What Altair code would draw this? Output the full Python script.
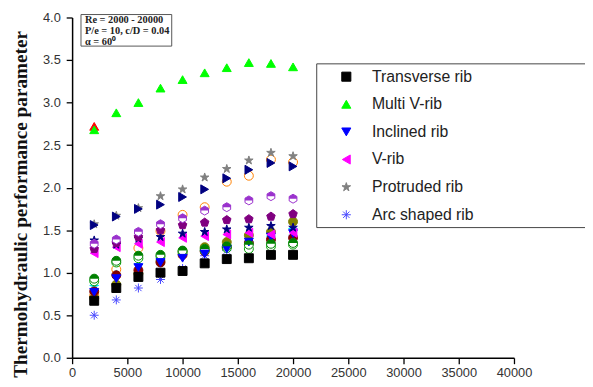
import altair as alt
import pandas as pd

# ---------------- data ----------------
re_values = [2000, 4000, 6000, 8000, 10000, 12000, 14000, 16000, 18000, 20000]

transverse_rib = [0.67, 0.82, 0.95, 1.00, 1.02, 1.11, 1.16, 1.17, 1.21, 1.21]
multi_v_rib = [2.68, 2.88, 3.00, 3.17, 3.27, 3.35, 3.41, 3.47, 3.46, 3.42]
inclined_rib = [0.77, 0.93, 1.06, 1.12, 1.17, 1.22, 1.28, 1.36, 1.42, 1.46]
v_rib = [1.23, 1.30, 1.34, 1.36, 1.41, 1.43, 1.45, 1.47, 1.45, 1.47]
protruded_rib = [1.57, 1.67, 1.76, 1.90, 1.98, 2.12, 2.22, 2.32, 2.41, 2.37]
arc_shaped_rib = [0.50, 0.68, 0.82, 0.92, 1.05, 1.20, 1.26, 1.33, 1.38, 1.44]
navy_triangle = [1.56, 1.66, 1.75, 1.80, 1.89, 1.98, 2.11, 2.21, 2.29, 2.25]
violet_hexagon = [1.34, 1.39, 1.48, 1.57, 1.64, 1.73, 1.77, 1.85, 1.90, 1.87]
purple_pentagon = [1.28, 1.35, 1.42, 1.50, 1.56, 1.59, 1.62, 1.63, 1.66, 1.69]
navy_star = [1.38, 1.33, 1.40, 1.42, 1.46, 1.48, 1.51, 1.53, 1.55, 1.53]
green_half = [0.93, 1.14, 1.20, 1.21, 1.26, 1.28, 1.31, 1.33, 1.34, 1.35]
green_open = [0.90, 1.12, 1.17, 1.19, 1.24, 1.26, 1.29, 1.28, 1.31, 1.33]
orange_open = [0.73, 1.04, 1.29, 1.49, 1.68, 1.77, 2.07, 2.14, 2.33, 2.30]
cyan_star = [0.85, 0.98, 1.10, 1.17, 1.22, 1.26, 1.32, 1.37, 1.43, 1.52]
maroon_circle = [0.78, 0.97, 1.03, 1.12, 1.21, 1.25, 1.30, 1.35, 1.39, 1.41]
olive_circle = [0.70, 0.86, 0.99, 1.14, 1.25, 1.30, 1.36, 1.44, 1.48, 1.60]
red_re = [2000]
red_triangle = [2.72]

legend_names = ["Transverse rib", "Multi V-rib", "Inclined rib", "V-rib",
                "Protruded rib", "Arc shaped rib"]

x_ticks = list(range(0, 40001, 2500))
y_ticks = [i * 0.25 for i in range(17)]

annotation_text = "Re = 2000 - 20000\nP/e = 10,  c/D = 0.04\nα = 60⁰"

# ---------------- shapes ----------------
STAR = ("M0,-1L0.224,-0.307L0.951,-0.309L0.361,0.117L0.588,0.809L0,0.38"
        "L-0.588,0.809L-0.361,0.117L-0.951,-0.309L-0.224,-0.307Z")
PENTAGON = "M0,-1L0.951,-0.309L0.588,0.809L-0.588,0.809L-0.951,-0.309Z"
HEXAGON = "M0,-1L0.866,-0.5L0.866,0.5L0,1L-0.866,0.5L-0.866,-0.5Z"
HEX_TOP = "M-0.866,0L-0.866,-0.5L0,-1L0.866,-0.5L0.866,0Z"
CIRCLE_TOP = "M-1,0A1,1 0 0,1 1,0Z"
ASTERISK = "M-1,0L1,0M0,-1L0,1M-0.7,-0.7L0.7,0.7M-0.7,0.7L0.7,-0.7"
STAR4 = "M0,-1L0.25,-0.25L1,0L0.25,0.25L0,1L-0.25,0.25L-1,0L-0.25,-0.25Z"

# name, values, x, fill, stroke, shape   (drawing order)
series = [
    ("Arc shaped rib", arc_shaped_rib, re_values, "transparent", "#4848ff", ASTERISK),
    ("Series O", orange_open, re_values, "white", "#ff8000", "circle"),
    ("Series C", cyan_star, re_values, "#00e0ff", "#00e0ff", STAR4),
    ("Series Ol", olive_circle, re_values, "#808000", "#808000", "circle"),
    ("Series M", maroon_circle, re_values, "#800000", "#800000", "circle"),
    ("Series GO", green_open, re_values, "white", "#00a000", "circle"),
    ("Series GH", green_half, re_values, "white", "#008000", "circle"),
    ("Inclined rib", inclined_rib, re_values, "#0000ff", "#0000ff", "triangle-down"),
    ("V-rib", v_rib, re_values, "#ff00ff", "#ff00ff", "triangle-left"),
    ("Series NS", navy_star, re_values, "#000080", "#000080", STAR),
    ("Series PP", purple_pentagon, re_values, "#800080", "#800080", PENTAGON),
    ("Series VH", violet_hexagon, re_values, "white", "#9a32cd", HEXAGON),
    ("Series R", red_triangle, red_re, "#ff0000", "#ff0000", "triangle-up"),
    ("Multi V-rib", multi_v_rib, re_values, "#00ff00", "#00ff00", "triangle-up"),
    ("Protruded rib", protruded_rib, re_values, "#808080", "#808080", STAR),
    ("Series NT", navy_triangle, re_values, "#000080", "#000080", "triangle-right"),
    ("Transverse rib", transverse_rib, re_values, "#000000", "#000000", "square"),
]

rows = []
for i, (name, vals, xs, *_rest) in enumerate(series):
    for x, v in zip(xs, vals):
        rows.append({"Re": x, "value": v, "series": name, "order": i})
df = pd.DataFrame(rows)

domain = [s[0] for s in series]
fills = [s[3] for s in series]
strokes = [s[4] for s in series]
shapes = [s[5] for s in series]

legend = alt.Legend(
    title=None, values=legend_names, orient="none", legendX=248, legendY=44,
    padding=8,
    labelFont="Liberation Sans", labelFontSize=16, labelColor="#222",
    labelLimit=600,
    symbolSize=85, symbolOffset=14, labelOffset=18, rowPadding=12,
    symbolStrokeWidth=1,
)

MSIZE = 82

x_enc = alt.X(
    "Re:Q",
    scale=alt.Scale(domain=[0, 40000], nice=False, zero=False),
    axis=alt.Axis(
        values=x_ticks, title=None, grid=False, format="d",
        labelExpr="datum.value % 5000 === 0 ? datum.label : ''",
        tickSize={"condition": {"test": "datum.value % 5000 === 0", "value": 6}, "value": 3},
        domainColor="#000", tickColor="#000", domainWidth=1.5, tickWidth=1.3,
        labelFont="Liberation Sans", labelFontSize=13, labelColor="#333",
        labelPadding=3, labelFlush=False, labelOverlap=False,
    ),
)
y_enc = alt.Y(
    "value:Q",
    scale=alt.Scale(domain=[0, 4], nice=False, zero=False),
    axis=alt.Axis(
        values=y_ticks, grid=False,
        labelExpr="datum.value % 0.5 === 0 ? format(datum.value, '.1f') : ''",
        tickSize={"condition": {"test": "datum.value % 0.5 === 0", "value": 6}, "value": 3},
        domainColor="#000", tickColor="#000", domainWidth=1.5, tickWidth=1.3,
        labelFont="Liberation Sans", labelFontSize=13, labelColor="#333",
        labelPadding=6, labelFlush=False, labelOverlap=False,
        title="Thermohydraulic performance parameter",
        titleFont="Liberation Serif", titleFontWeight="bold", titleFontSize=19.5,
        titleColor="#111", titleX=-52, titleY=189, titleAngle=270,
        titleAlign="center", titleBaseline="middle",
    ),
)

# legend frame (decoration, extends past the right edge like the reference)
frame_df = pd.DataFrame({"k": [0]})
legend_frame = alt.Chart(frame_df).mark_rect(fill="white", stroke="#444", strokeWidth=1).encode(
    x=alt.value(248), x2=alt.value(560), y=alt.value(47), y2=alt.value(213)
)

points = alt.Chart(df).mark_point(opacity=1, strokeWidth=1, size=MSIZE).encode(
    x=x_enc,
    y=y_enc,
    fill=alt.Fill("series:N", scale=alt.Scale(domain=domain, range=fills), legend=legend),
    stroke=alt.Stroke("series:N", scale=alt.Scale(domain=domain, range=strokes), legend=legend),
    shape=alt.Shape("series:N", scale=alt.Scale(domain=domain, range=shapes), legend=legend),
    order=alt.Order("order:Q"),
)

half_green = alt.Chart(df[df.series == "Series GH"]).mark_point(
    opacity=1, size=MSIZE, filled=True, strokeOpacity=0
).encode(x="Re:Q", y="value:Q", shape=alt.value(CIRCLE_TOP), fill=alt.value("#008000"))

half_violet = alt.Chart(df[df.series == "Series VH"]).mark_point(
    opacity=1, size=MSIZE, filled=True, strokeOpacity=0
).encode(x="Re:Q", y="value:Q", shape=alt.value(HEX_TOP), fill=alt.value("#9a32cd"))

box_df = pd.DataFrame({"t": [annotation_text]})
ann_box = alt.Chart(box_df).mark_rect(fill="white", stroke="#555", strokeWidth=1).encode(
    x=alt.value(9), x2=alt.value(101), y=alt.value(-3), y2=alt.value(29)
)
ann_text = alt.Chart(box_df).mark_text(
    align="left", baseline="top", lineBreak="\n", lineHeight=11,
    font="Liberation Serif", fontWeight="bold", fontSize=10.5, color="#222",
).encode(x=alt.value(13), y=alt.value(-2.5), text="t:N")

chart = alt.layer(legend_frame, points, half_green, half_violet, ann_box, ann_text).properties(
    width=448, height=345,
    autosize=alt.AutoSizeParams(type="none"),
    padding={"left": 65, "top": 7, "right": 72, "bottom": 27},
).configure_view(stroke=None)

chart.save("out.html", embed_options={"renderer": "svg", "actions": False})
